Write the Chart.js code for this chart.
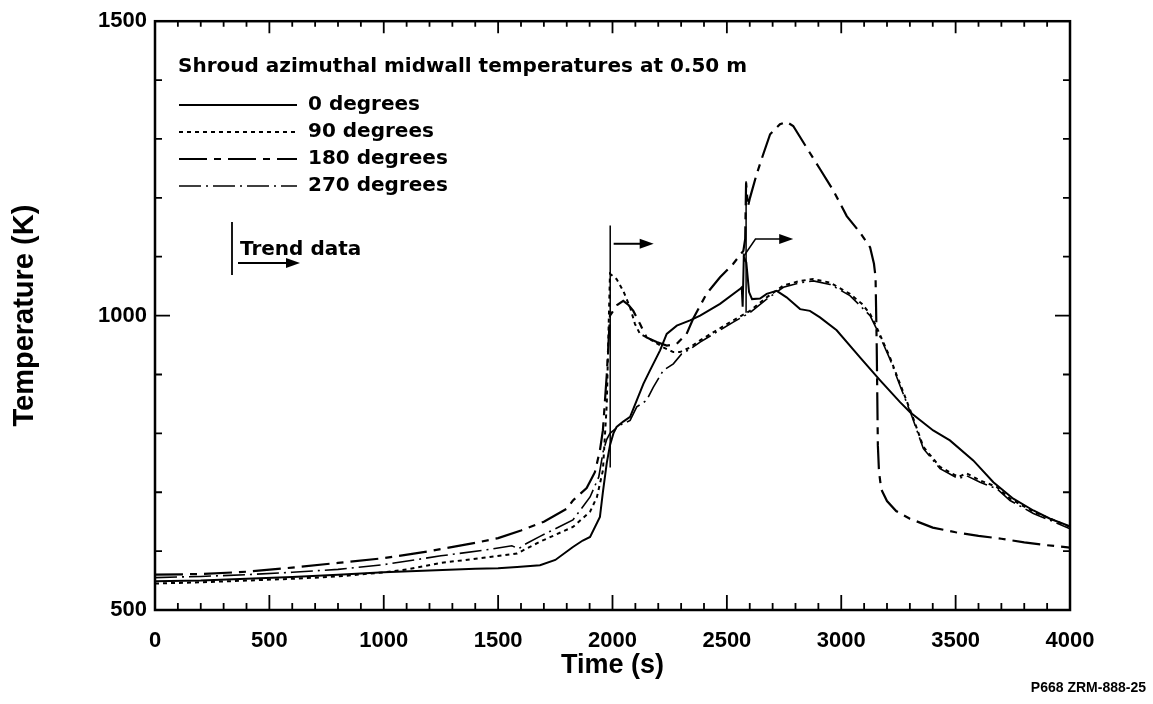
<!DOCTYPE html>
<html>
<head>
<meta charset="utf-8">
<title>Shroud azimuthal midwall temperatures</title>
<script src="https://cdn.jsdelivr.net/npm/chart.js@4.4.1/dist/chart.umd.min.js"></script>
<style>
  html, body { margin: 0; padding: 0; background: #fff; }
  #wrap { width: 1153px; height: 704px; position: relative; }
</style>
</head>
<body>
<div id="wrap"><canvas id="chart" width="1153" height="704"></canvas></div>
<script>
// time (s) / temperature (K)
var time0 = [0,200,400,600,800,1000,1200,1400,1500,1583,1683,1750,1827,1870,1902,1945,1958,1975,1989,2004,2018,2047,2077,2106,2135,2164,2208,2237,2281,2339,2383,2470,2557,2565,2569,2574,2585,2597,2610,2645,2674,2718,2761,2820,2863,2907,2980,3082,3170,3257,3301,3402,3475,3577,3665,3752,3840,3913,4000];
var temp0 = [549,550,553,556,560,564,567,570,571,573,576,585,607,618,624,658,700,750,780,800,811,820,828,856,884,907,941,969,983,992,1000,1020,1045,1048,1015,1100,1090,1040,1028,1029,1037,1042,1031,1011,1008,997,975,929,890,853,836,805,788,754,717,689,669,655,642];

var time90 = [0,200,400,600,800,1000,1100,1250,1464,1583,1683,1827,1902,1932,1958,1975,1983,1989,2018,2047,2077,2098,2120,2164,2222,2266,2295,2339,2383,2455,2528,2601,2674,2747,2820,2878,2951,3038,3090,3126,3155,3213,3257,3308,3359,3432,3512,3548,3607,3680,3738,3840,3927,4000];
var temp90 = [545,547,550,553,557,564,569,580,590,596,616,641,667,692,737,850,980,1071,1062,1042,1014,986,969,960,946,938,938,946,958,975,992,1008,1031,1051,1059,1062,1056,1037,1020,1003,980,929,884,833,777,743,726,732,720,709,689,667,653,641];

var time180 = [0,200,400,600,800,1000,1200,1400,1500,1600,1700,1800,1827,1887,1923,1945,1958,1975,1989,2020,2047,2070,2091,2120,2149,2193,2237,2281,2324,2353,2411,2470,2528,2572,2580,2584,2592,2601,2630,2659,2689,2732,2761,2790,2849,2907,2966,3024,3082,3126,3143,3150,3155,3160,3165,3175,3200,3240,3300,3400,3500,3600,3700,3800,3900,4000];
var temp180 = [560,561,565,572,580,588,600,614,622,635,650,672,686,707,734,771,805,900,1000,1018,1025,1018,1008,986,963,955,949,952,969,995,1037,1065,1088,1110,1130,1226,1185,1200,1240,1274,1308,1325,1329,1322,1285,1249,1212,1169,1141,1116,1088,1065,950,780,735,705,685,668,655,640,632,626,621,615,610,606];

var time270 = [0,200,400,600,800,1000,1250,1464,1560,1590,1620,1683,1827,1902,1940,1960,1975,1989,2033,2077,2106,2149,2178,2222,2266,2302,2339,2383,2455,2528,2601,2674,2747,2820,2878,2951,3038,3126,3155,3213,3257,3308,3359,3432,3512,3548,3607,3680,3738,3840,3927,4000];
var temp270 = [555,557,560,564,569,577,592,603,609,604,612,625,653,692,726,771,790,800,814,822,845,856,878,907,918,935,943,955,972,989,1005,1028,1048,1056,1059,1053,1034,1000,977,926,881,830,774,740,723,728,717,706,686,664,650,638];

var seriesLabels = ["0 degrees", "90 degrees", "180 degrees", "270 degrees"];

// trend data markers (vertical bar + arrow)
var trendTimes = [1990, 2584];
var trendLow = [742, 1005];
var trendHigh = [1153, 1228];
var arrow1T = [2005, 2180];
var arrow1K = [1122, 1122];
var arrow2T = [2572, 2625, 2790];
var arrow2K = [1100, 1130, 1130];

var xTicks = [0, 500, 1000, 1500, 2000, 2500, 3000, 3500, 4000];
var yTicks = [500, 1000, 1500];

var dashes = [[], [4, 4], [28, 7, 7, 7], [22, 5, 2, 5]];
var widths = [2, 2, 2.2, 1.6];

function toPoints(t, v)
{
    var pts = [];
    for (var i = 0; i < t.length; i++) { pts.push({x: t[i], y: v[i]}); }
    return pts;
}

function arrowHead(ctx, x, y)
{
    ctx.beginPath();
    ctx.moveTo(x, y);
    ctx.lineTo(x - 14, y - 5);
    ctx.lineTo(x - 14, y + 5);
    ctx.closePath();
    ctx.fill();
}

var framePlugin = {
    id: "frame",
    afterDatasetsDraw: function(chart)
    {
        var ctx = chart.ctx;
        var xs = chart.scales.x, ys = chart.scales.y;
        var a = chart.chartArea;
        ctx.save();
        ctx.strokeStyle = "#000";
        ctx.fillStyle = "#000";

        //Frame
        ctx.lineWidth = 2.5;
        ctx.setLineDash([]);
        ctx.strokeRect(a.left, a.top, a.right - a.left, a.bottom - a.top);

        //Inward ticks
        ctx.lineWidth = 1.8;
        ctx.beginPath();
        for (var t = 0; t <= 4000; t += 100)
        {
            var px = xs.getPixelForValue(t);
            var len = (t % 500 === 0) ? 15 : 7;
            ctx.moveTo(px, a.bottom); ctx.lineTo(px, a.bottom - len);
            ctx.moveTo(px, a.top); ctx.lineTo(px, a.top + len * 0.8);
        }
        for (var k = 500; k <= 1500; k += 100)
        {
            var py = ys.getPixelForValue(k);
            var len2 = (k % 500 === 0) ? 15 : 7;
            ctx.moveTo(a.left, py); ctx.lineTo(a.left + len2, py);
            ctx.moveTo(a.right, py); ctx.lineTo(a.right - len2, py);
        }
        ctx.stroke();

        //Trend data markers
        ctx.lineWidth = 1.5;
        ctx.beginPath();
        for (var i = 0; i < trendTimes.length; i++)
        {
            var tx = xs.getPixelForValue(trendTimes[i]);
            ctx.moveTo(tx, ys.getPixelForValue(trendLow[i]));
            ctx.lineTo(tx, ys.getPixelForValue(trendHigh[i]));
        }
        ctx.stroke();

        ctx.lineWidth = 2;
        ctx.beginPath();
        ctx.moveTo(xs.getPixelForValue(arrow1T[0]), ys.getPixelForValue(arrow1K[0]));
        ctx.lineTo(xs.getPixelForValue(arrow1T[1]) - 10, ys.getPixelForValue(arrow1K[1]));
        ctx.stroke();
        arrowHead(ctx, xs.getPixelForValue(arrow1T[1]), ys.getPixelForValue(arrow1K[1]));

        ctx.lineWidth = 1.5;
        ctx.beginPath();
        for (var j = 0; j < arrow2T.length; j++)
        {
            var ax = xs.getPixelForValue(arrow2T[j]);
            if (j === arrow2T.length - 1) { ax -= 10; }
            if (j === 0) { ctx.moveTo(ax, ys.getPixelForValue(arrow2K[j])); }
            else { ctx.lineTo(ax, ys.getPixelForValue(arrow2K[j])); }
        }
        ctx.stroke();
        arrowHead(ctx, xs.getPixelForValue(arrow2T[2]), ys.getPixelForValue(arrow2K[2]));

        //Legend
        ctx.textBaseline = "middle";
        ctx.textAlign = "left";
        ctx.font = "bold 20px 'DejaVu Sans'";
        ctx.fillText("Shroud azimuthal midwall temperatures at 0.50 m", 178, 67);
        var rows = [105, 132, 159, 186];
        for (var r = 0; r < seriesLabels.length; r++)
        {
            ctx.setLineDash(dashes[r]);
            ctx.lineWidth = widths[r];
            ctx.beginPath();
            ctx.moveTo(179, rows[r]);
            ctx.lineTo(297, rows[r]);
            ctx.stroke();
            ctx.setLineDash([]);
            ctx.fillText(seriesLabels[r], 308, rows[r]);
        }

        //Trend data key
        ctx.lineWidth = 1.8;
        ctx.beginPath();
        ctx.moveTo(232, 222); ctx.lineTo(232, 275);
        ctx.moveTo(238, 263); ctx.lineTo(290, 263);
        ctx.stroke();
        arrowHead(ctx, 300, 263);
        ctx.fillText("Trend data", 240, 250);

        //Figure id
        ctx.textAlign = "right";
        ctx.font = "bold 14px 'Liberation Sans'";
        ctx.fillText("P668 ZRM-888-25", 1146, 688);
        ctx.restore();
    }
};

var datasets = [];
var allTimes = [time0, time90, time180, time270];
var allTemps = [temp0, temp90, temp180, temp270];
for (var s = 0; s < allTimes.length; s++)
{
    datasets.push({
        label: seriesLabels[s],
        data: toPoints(allTimes[s], allTemps[s]),
        borderColor: "#000",
        borderWidth: widths[s],
        borderDash: dashes[s],
        pointRadius: 0,
        tension: 0,
        fill: false
    });
}

function plainLabel(value) { return String(value); }

new Chart(document.getElementById("chart"), {
    type: "line",
    data: { datasets: datasets },
    plugins: [framePlugin],
    options: {
        responsive: false,
        animation: false,
        layout: { padding: { left: 0, right: 83, top: 20, bottom: 0 } },
        plugins: { legend: { display: false }, tooltip: { enabled: false } },
        scales: {
            x: {
                type: "linear",
                min: 0, max: 4000,
                afterFit: function(scale) { scale.height = 94; },
                afterBuildTicks: function(scale) { scale.ticks = xTicks.map(function(v) { return {value: v}; }); },
                grid: { display: false, drawTicks: false },
                border: { display: false },
                ticks: { color: "#000", padding: 18, maxRotation: 0, callback: plainLabel, font: { family: "Liberation Sans", size: 22, weight: "bold" } },
                title: { display: true, text: "Time (s)", color: "#000", padding: { top: 0, bottom: 22 }, font: { family: "Liberation Sans", size: 27, weight: "bold" } }
            },
            y: {
                type: "linear",
                min: 500, max: 1500,
                afterFit: function(scale) { scale.width = 155; },
                afterBuildTicks: function(scale) { scale.ticks = yTicks.map(function(v) { return {value: v}; }); },
                grid: { display: false, drawTicks: false },
                border: { display: false },
                ticks: { color: "#000", padding: 8, callback: plainLabel, font: { family: "Liberation Sans", size: 22, weight: "bold" } },
                title: { display: true, text: "Temperature (K)", color: "#000", padding: { top: 8, bottom: 0 }, font: { family: "Liberation Sans", size: 29, weight: "bold" } }
            }
        }
    }
});
</script>
</body>
</html>
